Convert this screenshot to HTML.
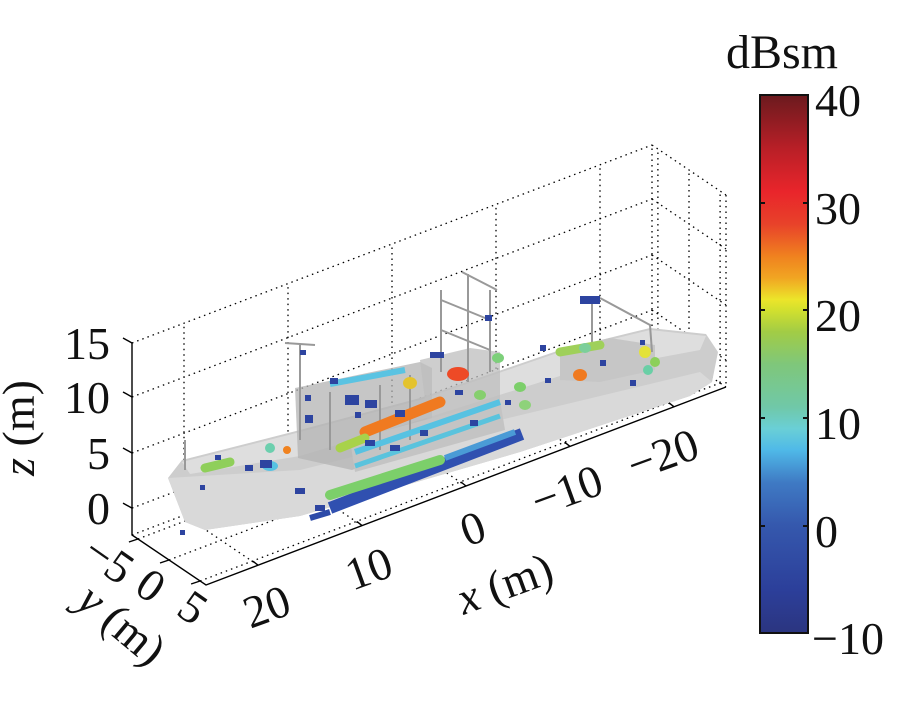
<!DOCTYPE html>
<html><head><meta charset="utf-8"><style>
html,body{margin:0;padding:0;background:#fff}
svg{display:block}
text{font-family:"Liberation Serif",serif;fill:#111}
</style></head><body>
<svg id="s" width="906" height="701" viewBox="0 0 906 701" xmlns="http://www.w3.org/2000/svg">
<defs>
<linearGradient id="cb" x1="0" y1="1" x2="0" y2="0">
<stop offset="0" stop-color="#2b3580"/>
<stop offset="0.08" stop-color="#2c3f9a"/>
<stop offset="0.2" stop-color="#3558ad"/>
<stop offset="0.28" stop-color="#3f7ac4"/>
<stop offset="0.34" stop-color="#4fb9e8"/>
<stop offset="0.38" stop-color="#6acfd6"/>
<stop offset="0.42" stop-color="#70c8a8"/>
<stop offset="0.5" stop-color="#7fc77a"/>
<stop offset="0.56" stop-color="#a2cc45"/>
<stop offset="0.6" stop-color="#d2e02e"/>
<stop offset="0.62" stop-color="#ece52a"/>
<stop offset="0.66" stop-color="#f1a522"/>
<stop offset="0.7" stop-color="#f0821f"/>
<stop offset="0.76" stop-color="#e8422a"/>
<stop offset="0.82" stop-color="#e9252b"/>
<stop offset="0.9" stop-color="#b91f27"/>
<stop offset="1" stop-color="#6b1a1e"/>
</linearGradient>
</defs>
<g id="grid" stroke="#000" stroke-width="1.3" stroke-dasharray="1.5,4" fill="none"></g>

<g>
<path d="M168,478 L182,460 L300,430 L420,398 L560,350 L650,328 L706,334 L718,352 L712,382 L690,396 L520,452 L300,516 L205,530 L185,522 Z" fill="#cdcdcd"/>
<path d="M168,478 L300,470 L500,420 L700,372 L712,382 L690,396 L520,452 L300,516 L205,530 L185,522 Z" fill="#d9d9d9"/>
<path d="M182,462 L300,432 L420,400 L560,352 L650,330 L706,336 L700,350 L560,376 L420,420 L300,456 L190,474 Z" fill="#dedede"/>
<path d="M295,388 L420,362 L432,368 L432,440 L352,470 L298,458 Z" fill="#b3b3b3" opacity="0.75"/>
<path d="M420,360 L470,348 L500,352 L500,410 L430,440 Z" fill="#bdbdbd" opacity="0.75"/>
<path d="M350,440 L500,400 L505,430 L355,472 Z" fill="#c4c4c4"/>
<path d="M560,350 L610,338 L655,345 L655,370 L600,382 L560,380 Z" fill="#c6c6c6"/>
<g stroke="#999" stroke-width="2" fill="none">
<path d="M300,345 L300,440 M285,343 L315,345 M441,290 L441,372 M468,274 L468,382 M490,290 L490,372 M441,300 L490,320 M441,330 L490,350 M462,272 L497,290 M592,302 L592,350 M600,298 L650,325 L652,352 M185,440 L185,470 M330,392 L330,450 M380,385 L380,450 M410,375 L410,440"/>
</g>
</g>
<g>
<path d="M330,508 L522,434" stroke="#3050b0" stroke-width="12"/>
<path d="M330,495 L440,460" stroke="#7ccf6a" stroke-width="10" stroke-linecap="round"/>
<path d="M445,458 L515,432" stroke="#4a9bd6" stroke-width="6"/>
<path d="M355,452 L500,402" stroke="#57c2e2" stroke-width="6"/>
<path d="M355,466 L500,416" stroke="#5ac3dd" stroke-width="5"/>
<path d="M330,384 L405,370" stroke="#5ac3e2" stroke-width="6"/>
<path d="M365,432 L440,402" stroke="#f07a20" stroke-width="11" stroke-linecap="round"/>
<path d="M340,448 L365,438" stroke="#a8d24a" stroke-width="9" stroke-linecap="round"/>
<path d="M560,352 L600,345" stroke="#9fd05a" stroke-width="9" stroke-linecap="round"/>
<path d="M205,468 L230,462" stroke="#8fcf5a" stroke-width="9" stroke-linecap="round"/>
<path d="M310,518 L330,512" stroke="#2c4aa8" stroke-width="6"/>
<ellipse cx="458" cy="374" rx="11" ry="7" fill="#ee4a26"/>
<ellipse cx="580" cy="375" rx="7" ry="6" fill="#f07a20"/>
<ellipse cx="645" cy="352" rx="6" ry="6" fill="#e3e23a"/>
<ellipse cx="410" cy="383" rx="7" ry="6" fill="#e4c32e"/>
<ellipse cx="498" cy="358" rx="6" ry="5" fill="#7dd07a"/>
<ellipse cx="525" cy="405" rx="6" ry="5" fill="#8ed27a"/>
<ellipse cx="520" cy="387" rx="6" ry="5" fill="#7ccf6a"/>
<ellipse cx="480" cy="395" rx="6" ry="5" fill="#86cf6e"/>
<ellipse cx="585" cy="348" rx="6" ry="5" fill="#7ccf9a"/>
<ellipse cx="270" cy="448" rx="5" ry="5" fill="#6ccfae"/>
<ellipse cx="270" cy="466" rx="8" ry="5" fill="#57c2e2"/>
<ellipse cx="287" cy="450" rx="4" ry="4" fill="#f0821f"/>
<ellipse cx="648" cy="370" rx="5" ry="5" fill="#6acfa6"/>
<ellipse cx="655" cy="362" rx="5" ry="5" fill="#8cd05a"/>
<g fill="#2d44a0">
<rect x="580" y="296" width="20" height="8"/>
<rect x="430" y="352" width="14" height="6"/><rect x="330" y="378" width="8" height="6"/>
<rect x="345" y="395" width="14" height="10"/><rect x="365" y="400" width="12" height="8"/>
<rect x="395" y="410" width="10" height="7"/><rect x="305" y="395" width="6" height="6"/>
<rect x="305" y="415" width="8" height="8"/><rect x="260" y="460" width="12" height="8"/>
<rect x="245" y="465" width="8" height="6"/><rect x="295" y="488" width="10" height="6"/>
<rect x="315" y="505" width="10" height="6"/><rect x="200" y="485" width="5" height="5"/>
<rect x="180" y="530" width="5" height="5"/><rect x="300" y="350" width="6" height="5"/>
<rect x="485" y="315" width="7" height="6"/><rect x="600" y="360" width="6" height="6"/>
<rect x="630" y="380" width="6" height="6"/><rect x="640" y="340" width="5" height="5"/>
<rect x="545" y="378" width="6" height="5"/><rect x="455" y="390" width="8" height="5"/>
<rect x="390" y="445" width="10" height="6"/><rect x="420" y="430" width="8" height="6"/>
<rect x="470" y="420" width="8" height="6"/><rect x="215" y="455" width="6" height="5"/>
<rect x="355" y="412" width="6" height="6"/><rect x="505" y="400" width="6" height="5"/>
<rect x="365" y="440" width="10" height="6"/><rect x="540" y="345" width="6" height="6"/>
</g>
</g>

<g stroke="#000" stroke-width="1.4" fill="none">
<path d="M132,343 L132,535 L206,585 L726,387"/>
</g>
<g id="ticks" stroke="#000" stroke-width="1.4"></g>
<g id="labels" font-size="46"></g>
<text font-size="46" transform="translate(34,428) rotate(-90)" text-anchor="middle"><tspan font-style="italic">z</tspan> (m)</text>
<text font-size="46" transform="translate(112,636) rotate(40)" text-anchor="middle"><tspan font-style="italic">y</tspan> (m)</text>
<text font-size="46" transform="translate(510,598) rotate(-20)" text-anchor="middle"><tspan font-style="italic">x</tspan> (m)</text>

<rect x="760" y="95" width="48" height="538" fill="url(#cb)" stroke="#111" stroke-width="2"/>
<g stroke="#111" stroke-width="2">
<path d="M760,203 h5 M803,203 h5 M760,310 h5 M803,310 h5 M760,418 h5 M803,418 h5 M760,526 h5 M803,526 h5"/>
</g>
<g font-size="46">
<text x="815" y="116">40</text>
<text x="815" y="224">30</text>
<text x="815" y="331">20</text>
<text x="815" y="439">10</text>
<text x="815" y="547">0</text>
<text x="812" y="654">−10</text>
<text x="782" y="68" text-anchor="middle" font-size="48">dBsm</text>
</g>
</svg>
<script>
(function(){
var NS="http://www.w3.org/2000/svg";
var A=[132,535],X=[520,-198],Y=[74,50],Z=[0,-192];
function P(fx,fy,fz){return [A[0]+X[0]*fx+Y[0]*fy+Z[0]*fz, A[1]+X[1]*fx+Y[1]*fy+Z[1]*fz];}
var g=document.getElementById("grid"),d="";
function L(p,q){d+="M"+p[0].toFixed(1)+","+p[1].toFixed(1)+"L"+q[0].toFixed(1)+","+q[1].toFixed(1);}
var xf=[0.1,0.3,0.5,0.7,0.9],yf=[0.08,0.5,0.92],zf=[0.14,0.427,0.719];
xf.forEach(function(f){L(P(f,0,0),P(f,0,1));L(P(f,0,0),P(f,1,0));});
zf.forEach(function(f){L(P(0,0,f),P(1,0,f));L(P(1,0,f),P(1,1,f));});
yf.forEach(function(f){L(P(0,f,0),P(1,f,0));L(P(1,f,0),P(1,f,1));});
L(P(0,0,1),P(1,0,1));L(P(1,0,1),P(1,1,1));L(P(1,1,1),P(1,1,0));L(P(1,0,0),P(1,0,1));L(P(1,0,0),P(1,1,0));L(P(0,0,0),P(1,0,0));
var pth=document.createElementNS(NS,"path");pth.setAttribute("d",d);g.appendChild(pth);
var t=document.getElementById("ticks"),td="";
function T(p,dx,dy){td+="M"+p[0]+","+p[1]+"l"+dx+","+dy;}
xf.forEach(function(f){T(P(f,1,0),-5,-4);});
zf.concat([1]).forEach(function(f){T(P(0,0,f),-9,-5);});
yf.forEach(function(f){T(P(0,f,0),-9,3);});
var tp=document.createElementNS(NS,"path");tp.setAttribute("d",td);t.appendChild(tp);
var lb=document.getElementById("labels");
function TX(s,x,y,r,anc){var e=document.createElementNS(NS,"text");e.textContent=s;e.setAttribute("text-anchor",anc||"middle");e.setAttribute("transform","translate("+x+","+y+") rotate("+r+")");lb.appendChild(e);}
TX("15",110,359,0,"end");TX("10",110,413,0,"end");TX("5",110,469,0,"end");TX("0",110,524,0,"end");
TX("−5",100,572,35);TX("0",142,598,35);TX("5",184,620,35);
TX("20",272,621,-20);TX("10",374,583,-20);TX("0",478,543,-20);TX("−10",572,505,-20);TX("−20",668,469,-20);
})();
</script>
</body></html>
